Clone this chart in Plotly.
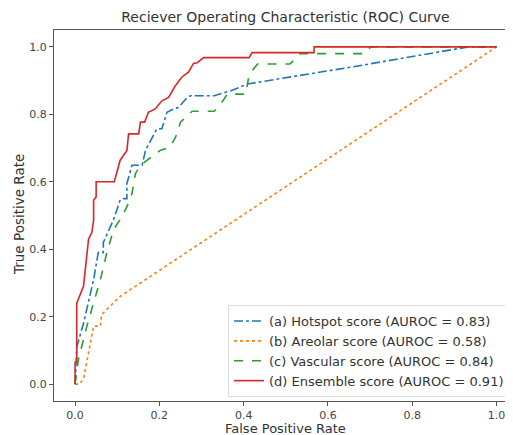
import plotly.graph_objects as go

# ROC data
hot_fpr = [0, 0.004, 0.02, 0.032, 0.044, 0.055, 0.067, 0.067, 0.091, 0.107, 0.115, 0.123, 0.123, 0.135, 0.159, 0.167, 0.179, 0.194, 0.206, 0.218, 0.234, 0.245, 0.266, 0.274, 0.33, 0.37, 0.409, 0.655, 0.933, 1.0]
hot_tpr = [0, 0.11, 0.18, 0.25, 0.31, 0.39, 0.39, 0.42, 0.487, 0.546, 0.55, 0.55, 0.595, 0.649, 0.649, 0.693, 0.723, 0.757, 0.757, 0.806, 0.816, 0.82, 0.85, 0.855, 0.855, 0.87, 0.89, 0.94, 1.0, 1.0]

are_fpr = [0, 0.01, 0.02, 0.044, 0.06, 0.063, 0.091, 0.107, 1.0]
are_tpr = [0, 0.0, 0.015, 0.172, 0.172, 0.206, 0.241, 0.26, 1.0]

vas_fpr = [0, 0.008, 0.028, 0.044, 0.06, 0.075, 0.091, 0.111, 0.123, 0.135, 0.143, 0.155, 0.171, 0.202, 0.226, 0.242, 0.25, 0.266, 0.278, 0.33, 0.345, 0.361, 0.405, 0.413, 0.433, 0.51, 0.534, 0.686, 0.702, 1.0]
vas_tpr = [0, 0.074, 0.172, 0.24, 0.31, 0.388, 0.457, 0.496, 0.526, 0.565, 0.624, 0.649, 0.664, 0.693, 0.703, 0.742, 0.777, 0.796, 0.809, 0.809, 0.829, 0.86, 0.86, 0.919, 0.949, 0.949, 0.98, 0.98, 1.0, 1.0]

ens_fpr = [0, 0, 0.004, 0.004, 0.02, 0.032, 0.04, 0.044, 0.044, 0.05, 0.05, 0.093, 0.107, 0.123, 0.127, 0.151, 0.155, 0.165, 0.174, 0.19, 0.206, 0.222, 0.238, 0.253, 0.269, 0.281, 0.29, 0.305, 0.413, 0.42, 0.567, 0.567, 1.0]
ens_tpr = [0, 0.065, 0.065, 0.24, 0.29, 0.43, 0.45, 0.487, 0.546, 0.555, 0.60, 0.60, 0.664, 0.693, 0.742, 0.742, 0.777, 0.777, 0.806, 0.816, 0.84, 0.85, 0.885, 0.91, 0.925, 0.951, 0.953, 0.968, 0.968, 0.983, 0.983, 1.0, 1.0]

names = ["(a) Hotspot score (AUROC = 0.83)", "(b) Areolar score (AUROC = 0.58)",
         "(c) Vascular score (AUROC = 0.84)", "(d) Ensemble score (AUROC = 0.91)"]
tick_vals = [0.0, 0.2, 0.4, 0.6, 0.8, 1.0]
tick_text = ["0.0", "0.2", "0.4", "0.6", "0.8", "1.0"]

series = [
    (hot_fpr, hot_tpr, "#1f77b4", "dashdot"),
    (are_fpr, are_tpr, "#ff7f0e", "dot"),
    (vas_fpr, vas_tpr, "#2ca02c", "dash"),
    (ens_fpr, ens_tpr, "#d62728", "solid"),
]

fig = go.Figure()
for (x, y, c, d), n in zip(series, names):
    fig.add_trace(go.Scatter(x=x, y=y, mode="lines", name=n,
                             line=dict(color=c, dash=d, width=1.6)))

font = "DejaVu Sans, sans-serif"
axis_common = dict(showgrid=False, zeroline=False, showline=True, linecolor="#555",
                   linewidth=1.2, ticks="outside", ticklen=4, tickcolor="#555",
                   tickvals=tick_vals, ticktext=tick_text, automargin=False,
                   tickfont=dict(family=font, size=11, color="#444"))

# the page body adds an 8px offset; target page positions are shifted by -8
OFF = 8
W, H = 513 - OFF, 435 - OFF
L, R, T = 54 - OFF, 0, 30 - OFF
B = H - (401 - OFF)
pw = W - L - R
ph = H - T - B

def px_x(page_x):
    return (page_x - OFF - L) / pw

def px_y(page_y):
    return (H - B - (page_y - OFF)) / ph

fig.update_layout(
    width=W, height=H,
    margin=dict(l=L, r=R, t=T, b=B, autoexpand=False),
    paper_bgcolor="white", plot_bgcolor="white",
    title=dict(text="Reciever Operating Characteristic (ROC) Curve",
               font=dict(family=font, size=14, color="#333"),
               x=((54 + 517) / 2 - OFF) / W, xanchor="center", y=1 - (17 - OFF) / H, yanchor="middle"),
    xaxis=dict(range=[-0.05, 1.039], mirror=True, **axis_common),
    yaxis=dict(range=[-0.05, 1.05], mirror=False, **axis_common),
    legend=dict(x=px_x(510), y=px_y(397), xanchor="right", yanchor="bottom",
                bgcolor="rgba(255,255,255,0.8)", bordercolor="#ddd", borderwidth=1,
                font=dict(family=font, size=13, color="#333"), itemwidth=30,
                tracegroupgap=0),
    showlegend=True,
    annotations=[
        dict(text="False Positive Rate", xref="paper", yref="paper",
             x=px_x((54 + 517) / 2), y=px_y(428), xanchor="center", yanchor="middle",
             showarrow=False, font=dict(family=font, size=13, color="#333")),
        dict(text="True Positive Rate", xref="paper", yref="paper",
             x=px_x(19), y=px_y(215), xanchor="center", yanchor="middle", textangle=-90,
             showarrow=False, font=dict(family=font, size=13.5, color="#333")),
    ],
)

fig.write_html("out.html")
